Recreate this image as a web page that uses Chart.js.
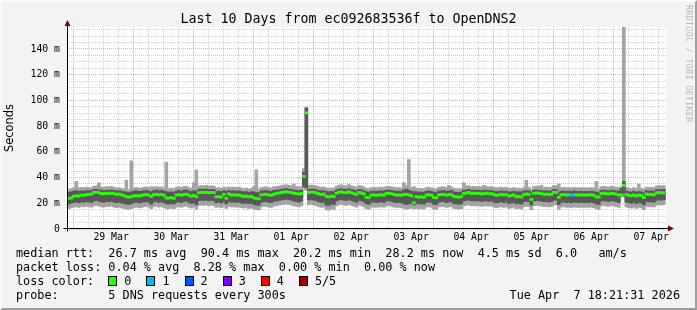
<!DOCTYPE html>
<html><head><meta charset="utf-8">
<script src="https://cdn.jsdelivr.net/npm/chart.js@4"></script>
<style>
html,body{margin:0;padding:0;background:#f3f3f3;}
#wrap{position:relative;width:697px;height:310px;background:#f3f3f3;overflow:hidden;font-family:"DejaVu Sans Mono",monospace;color:#000;box-sizing:border-box;}
#frame{position:absolute;left:0;top:0;width:697px;height:310px;box-sizing:border-box;border-top:2px solid #fcfcfc;border-left:2px solid #fcfcfc;border-right:2px solid #9e9e9e;border-bottom:2px solid #9e9e9e;pointer-events:none;}
#c{position:absolute;left:0;top:0;}
.t{position:absolute;white-space:pre;line-height:1;}
#title{font-size:13.3px;left:0;width:697px;text-align:center;top:12px;}
.lg{font-size:11.8px;left:16px;}
.sw{display:inline-block;width:7px;height:8px;border:1px solid #000;vertical-align:-1px;margin-right:7px;}
.it{display:inline-block;margin-right:15px;}
#stamp{font-size:11.8px;right:17px;top:290px;}
#wm{font-size:8.4px;color:#b8b8b8;left:684px;top:5px;transform-origin:0 0;transform:translateX(9px) rotate(90deg);letter-spacing:0.3px;}
</style></head>
<body><div id="wrap">
<canvas id="c" width="697" height="310"></canvas>
<div id="title" class="t">Last 10 Days from ec092683536f to OpenDNS2</div>
<div id="l1" class="t lg" style="top:248px">median rtt:  26.7 ms avg  90.4 ms max  20.2 ms min  28.2 ms now  4.5 ms sd  6.0   am/s</div>
<div id="l2" class="t lg" style="top:262px">packet loss: 0.04 % avg  8.28 % max  0.00 % min  0.00 % now</div>
<div id="l3" class="t lg" style="top:276px">loss color:  <span id="lossItems"></span></div>
<div id="l4" class="t lg" style="top:290px">probe:       5 DNS requests every 300s</div>
<div id="stamp" class="t">Tue Apr  7 18:21:31 2026</div>
<div id="wm" class="t">RRDTOOL / TOBI OETIKER</div>
<div id="frame"></div>
</div>
<script>
// ---- data (hourly buckets, sorted pings in ms) ----
const xLabels = ['29 Mar','30 Mar','31 Mar','01 Apr','02 Apr','03 Apr','04 Apr','05 Apr','06 Apr','07 Apr'];
const yLabels = ['0','20 m','40 m','60 m','80 m','100 m','120 m','140 m'];
const lossLabels = ['0','1','2','3','4','5/5'];
const lossColors = ['#26ff00','#00b8ff','#0059ff','#7e00ff','#ff0000','#a00000'];

const ping1 = [
16.2,15.8,16.6,17.0,17.4,16.8,17.6,17.2,17.8,17.4,
17.0,18.0,18.4,17.8,17.2,17.0,17.6,17.4,17.9,17.2,
16.6,17.1,16.4,16.0,15.6,15.2,15.8,16.8,17.0,16.4,
16.8,17.2,17.6,17.0,15.8,17.2,17.8,16.9,17.5,16.7,
16.0,15.6,16.2,15.8,17.0,17.4,16.8,17.6,18.0,17.0,
16.2,17.0,15.4,18.2,18.6,18.3,18.8,18.0,18.5,18.2,
16.8,17.2,16.5,17.8,16.0,17.7,17.1,17.3,16.9,17.2,
16.6,16.2,16.8,15.9,16.4,15.6,15.0,14.8,17.1,17.5,
17.6,17.0,16.8,17.8,18.1,18.5,18.9,19.2,19.5,19.0,
18.6,18.0,17.6,17.2,17.9,31.0,30.0,18.8,19.2,18.8,
18.2,17.4,16.8,17.2,15.0,14.6,15.6,15.2,18.0,18.8,
19.2,18.6,18.3,19.4,18.4,17.8,17.0,18.6,18.2,17.4,
15.8,15.4,17.0,17.2,16.8,17.0,17.3,16.9,18.0,18.2,
17.8,17.2,16.8,17.0,16.6,16.0,15.4,15.8,16.4,15.6,
16.0,15.6,15.8,15.4,17.0,17.3,16.8,15.4,15.2,17.1,
17.4,17.6,16.8,17.2,17.5,16.0,15.6,15.4,15.8,18.0,
18.4,18.8,18.0,18.2,17.9,18.1,17.6,17.8,18.2,17.7,
18.0,17.2,16.6,16.9,17.4,16.8,17.2,16.0,16.4,17.0,
15.8,16.1,15.6,17.4,17.7,17.4,15.0,18.0,18.4,18.2,
17.9,17.4,17.6,17.2,17.5,18.8,18.6,15.2,17.0,17.3,
16.8,17.1,16.6,17.2,16.9,16.8,17.0,16.7,16.9,16.8,
17.1,16.6,15.6,15.2,18.0,18.3,17.8,17.6,18.2,17.9,
17.4,16.8,25.2,25.2,17.2,16.6,16.2,17.0,16.0,16.8,
16.4,15.0,17.6,17.2,17.4,17.0,18.4,18.8,18.6,19.0];

const ping2 = [
19.8,19.5,20.2,20.6,21.0,20.4,21.2,20.8,21.4,21.0,
20.6,21.8,22.2,21.6,21.0,20.8,21.4,21.2,21.6,21.0,
20.4,20.9,20.2,19.8,19.4,19.0,19.6,20.5,20.8,20.2,
20.6,21.0,21.4,20.8,19.2,21.0,21.5,20.7,21.2,20.5,
19.6,19.2,19.8,19.4,20.8,21.2,20.6,21.4,21.8,20.8,
19.8,20.6,18.8,22.0,22.4,22.1,22.6,21.9,22.3,22.0,
20.4,20.8,20.2,21.5,19.6,21.4,20.8,21.0,20.6,20.9,
20.2,19.8,20.4,19.6,20.0,19.2,18.6,18.4,20.8,21.2,
21.4,20.8,20.6,21.5,21.8,22.2,22.6,22.9,23.2,22.8,
22.4,21.8,21.4,21.0,21.6,33.0,32.0,22.6,22.9,22.5,
22.0,21.2,20.6,21.0,18.6,18.4,19.4,19.0,21.8,22.6,
23.0,22.4,22.1,23.2,22.2,21.6,20.8,22.4,22.0,21.2,
19.6,19.2,20.8,21.0,20.6,20.8,21.1,20.7,21.8,22.0,
21.6,21.0,20.6,20.8,20.4,19.6,19.0,19.4,20.2,18.8,
19.8,19.4,19.6,19.2,20.8,21.1,20.6,19.2,19.0,20.9,
21.2,21.4,20.6,21.0,21.3,19.8,19.4,19.2,19.6,21.8,
22.2,22.6,21.8,22.0,21.7,21.9,21.4,21.6,22.0,21.5,
21.8,21.0,20.4,20.7,21.2,20.6,21.0,19.8,20.2,20.8,
19.6,19.9,19.4,21.2,21.5,21.2,18.6,21.8,22.2,22.0,
21.7,21.2,21.4,21.0,21.3,22.6,22.4,19.0,20.8,21.1,
20.6,20.9,20.4,21.0,20.7,20.6,20.8,20.5,20.7,20.6,
20.9,20.4,19.4,19.0,21.8,22.1,21.6,21.4,22.0,21.7,
21.2,20.6,25.5,27.0,21.0,20.4,20.0,20.8,19.8,20.6,
20.2,18.8,21.4,21.0,21.2,20.8,22.2,22.6,22.4,22.8];

const median = [
24.0,23.8,24.2,25.5,25.8,25.6,26.4,26.2,26.6,27.0,
27.1,28.4,28.6,28.3,27.6,27.4,27.8,27.5,27.9,27.7,
26.9,27.2,26.6,26.0,25.2,24.9,25.1,25.8,25.9,25.6,
26.1,26.5,26.8,26.4,25.3,26.7,27.0,26.6,26.9,26.3,
24.2,24.0,24.4,23.9,26.5,26.8,26.2,26.9,27.1,26.4,
25.4,26.0,25.1,28.2,28.5,28.4,28.6,28.1,28.5,28.3,
25.0,25.2,24.8,27.0,24.0,27.2,26.4,26.6,26.2,26.5,
25.8,25.2,25.6,25.0,25.4,24.2,23.8,23.5,26.6,26.9,
27.0,26.5,26.3,27.1,27.6,27.9,28.4,28.7,28.9,28.6,
28.4,27.8,27.5,27.2,27.6,41.0,90.4,28.5,28.7,28.6,
28.0,27.4,26.8,27.2,25.4,25.0,25.6,25.2,27.8,28.6,
28.9,28.4,28.2,29.0,28.1,27.6,26.9,28.4,28.0,27.3,
24.6,24.4,26.3,26.5,26.2,26.4,26.6,26.3,27.6,27.8,
27.5,26.9,26.4,26.6,26.2,26.8,27.0,26.5,25.8,20.4,
25.2,24.8,25.0,24.6,26.4,26.7,26.2,24.6,24.3,26.5,
26.8,27.0,26.2,26.6,26.9,25.4,25.0,24.8,25.2,27.6,
28.0,28.4,27.5,27.9,27.6,27.8,27.2,27.5,27.9,27.4,
27.6,26.8,26.2,26.5,27.0,26.4,26.8,25.6,26.0,26.5,
25.0,25.3,24.9,26.9,27.2,27.0,23.0,27.6,28.0,27.8,
27.5,27.0,27.2,26.8,27.1,28.6,28.4,24.6,26.6,26.9,
26.4,26.6,26.2,26.8,26.5,26.4,26.6,26.3,26.5,26.4,
26.7,26.2,25.0,24.8,27.6,27.9,27.4,27.2,27.8,27.5,
27.0,26.4,26.5,34.0,26.8,26.2,25.8,26.6,25.6,26.4,
26.0,24.4,27.2,26.8,27.0,26.6,28.0,28.4,28.2,28.2];

const ping4 = [
28.6,28.4,28.9,29.4,29.8,29.2,29.6,29.3,29.8,30.0,
29.8,30.6,30.9,30.4,30.2,29.6,30.1,29.9,30.4,30.0,
29.6,29.9,29.4,29.1,28.8,28.4,28.9,29.5,29.7,29.2,
29.4,29.8,30.2,29.6,29.0,29.9,30.3,29.7,30.1,29.5,
29.0,28.6,28.9,28.4,29.6,30.0,29.4,30.2,30.4,29.6,
29.2,29.8,29.4,30.6,31.0,30.8,31.1,30.6,30.9,30.7,
29.0,29.4,29.1,29.9,29.2,30.0,29.6,29.8,29.4,29.7,
29.2,28.8,29.1,28.6,29.0,28.9,28.4,28.2,29.5,29.8,
30.0,29.5,29.3,30.0,30.2,30.5,30.8,31.2,31.4,31.0,
30.8,30.3,30.0,29.8,30.1,44.0,94.0,30.8,31.1,30.9,
30.5,30.0,29.6,29.9,29.2,28.9,29.3,29.0,30.3,31.0,
31.2,30.8,30.6,31.3,30.5,30.2,29.6,30.8,30.4,29.9,
28.9,28.7,29.4,29.6,29.3,29.5,29.8,29.4,30.1,30.3,
30.0,29.6,29.3,29.5,29.2,30.4,31.0,30.2,29.4,29.0,
29.0,28.6,28.8,28.5,29.4,29.7,29.3,28.6,28.4,29.5,
29.8,30.0,29.3,29.6,30.0,28.9,28.6,28.4,28.8,30.1,
30.4,30.8,30.0,30.3,30.1,30.2,29.8,30.0,30.3,29.9,
30.0,29.5,29.1,29.3,29.7,29.2,29.5,28.8,29.0,29.4,
28.8,29.0,28.7,29.6,29.9,29.7,28.2,30.1,30.4,30.2,
30.0,29.6,29.8,29.4,29.7,30.8,30.6,28.6,29.4,29.6,
29.2,29.5,29.0,29.6,29.3,29.2,29.4,29.1,29.3,29.2,
29.5,29.1,28.6,28.4,30.0,30.3,29.9,29.7,30.2,30.0,
29.6,29.4,31.5,37.0,29.5,29.0,28.7,29.4,28.6,29.2,
28.9,28.2,29.8,29.5,29.7,29.3,30.4,30.7,30.5,30.8];

const ping5 = [
31.2,30.8,31.6,32.0,37.0,31.8,32.4,31.9,32.6,32.2,
32.0,33.2,33.6,36.0,32.8,32.4,33.0,32.6,33.2,32.5,
31.8,32.2,31.6,31.2,38.0,30.8,53.0,32.0,32.3,31.7,
32.0,32.4,32.8,32.2,33.0,32.5,33.0,32.3,32.8,32.0,
52.0,31.4,31.8,31.2,32.4,32.8,32.2,33.0,33.2,32.3,
31.8,36.0,46.0,33.4,33.8,33.5,34.0,33.2,33.6,33.3,
31.8,32.2,31.6,32.6,31.9,32.8,32.4,32.6,32.2,32.5,
31.9,31.4,31.8,31.2,31.6,33.0,46.0,31.0,32.2,32.6,
32.8,32.2,32.0,32.8,33.0,33.4,33.8,34.2,34.4,34.0,
33.8,35.0,33.0,32.6,33.0,47.0,95.0,33.8,34.2,33.9,
33.4,32.8,32.4,32.7,31.8,31.4,32.0,31.6,33.2,34.0,
34.4,33.8,33.5,34.6,33.6,33.2,32.4,33.8,33.4,32.8,
31.6,31.3,32.2,32.4,32.0,32.3,32.6,32.2,33.0,33.2,
32.8,32.4,32.0,32.2,31.9,36.0,33.8,54.0,32.2,33.0,
31.8,31.4,31.6,31.2,32.2,32.5,32.0,31.4,31.2,32.4,
32.6,32.8,32.0,34.0,32.8,31.6,31.4,31.2,31.6,36.0,
33.4,33.8,33.0,33.2,33.0,33.1,32.6,34.0,33.2,32.8,
33.0,32.4,32.0,32.2,32.6,32.0,32.4,31.6,31.8,32.2,
31.6,31.8,31.4,32.4,38.0,32.6,31.0,33.0,33.4,33.2,
34.0,32.4,32.6,32.2,32.5,33.8,33.6,35.0,32.2,32.4,
32.0,32.3,31.8,32.4,32.1,32.0,32.2,31.9,32.1,32.0,
32.3,31.9,37.0,31.2,33.0,33.3,32.8,32.6,33.2,32.9,
32.4,32.2,33.0,160.0,32.2,31.8,31.4,32.2,31.4,35.0,
31.7,31.0,32.6,32.3,32.5,32.1,33.4,33.7,33.5,33.8];

const lossCount = [
0,0,0,0,0,0,0,0,0,0, 0,0,0,0,0,0,0,0,0,0, 0,0,0,0,0,0,0,0,0,0,
0,0,0,0,0,0,0,0,0,0, 0,0,0,0,0,0,0,0,0,0, 0,0,0,0,0,0,0,0,0,0,
0,0,0,0,0,0,0,0,0,0, 0,0,0,0,0,0,0,0,0,0, 0,0,0,0,0,0,0,0,0,0,
0,0,0,0,0,0,0,0,0,0, 0,0,0,0,0,0,0,0,0,0, 0,0,0,0,0,0,0,0,0,0,
0,0,0,0,0,0,0,0,0,0, 0,0,0,0,0,0,0,0,0,0, 0,0,0,0,0,0,0,0,0,0,
0,0,0,0,0,0,0,0,0,0, 0,0,0,0,0,0,0,0,0,0, 0,0,0,0,0,0,0,0,0,0,
0,0,0,0,0,0,0,0,0,0, 0,0,0,0,0,0,0,0,0,0, 0,0,1,1,0,0,0,0,0,0,
0,0,0,0,0,0,0,0,0,0];

// ---- time axis: hours after 28 Mar 00:00 ----
const VIEW_START = 18.36, VIEW_END = 258.36;   // 28 Mar 18:21 .. 07 Apr 18:21
const FIRST_BUCKET = 18.1;                    // centre of first hourly bucket
const MED_HALF = 0.85;                        // half height of median mark (ms)

const xs = median.map((_, i) => FIRST_BUCKET + i);
const lightData = xs.map((x, i) => ({x, y: [ping1[i], ping5[i]]}));
const darkData  = xs.map((x, i) => ({x, y: [ping2[i], ping4[i]]}));
const medData   = xs.map((x, i) => ({x, y: [median[i] - MED_HALF, median[i] + MED_HALF]}));

// legend items
const li = document.getElementById('lossItems');
lossLabels.forEach((lab, k) => {
  const s = document.createElement('span'); s.className = 'it';
  s.innerHTML = '<span class="sw" style="background:' + lossColors[k] + '"></span>' + lab;
  li.appendChild(s);
});

const MONO = '"DejaVu Sans Mono", monospace';
const bg = {
  id: 'bg',
  beforeDraw(chart) {
    const {ctx, chartArea: a} = chart;
    ctx.save(); ctx.fillStyle = '#ffffff';
    ctx.fillRect(a.left, a.top, a.right - a.left, a.bottom - a.top);
    ctx.restore();
  }
};
const axes = {
  id: 'axes',
  afterDraw(chart) {
    const {ctx, chartArea: a, scales: {x, y}} = chart;
    const y0 = Math.round(y.getPixelForValue(0)) - 0.5;
    const x0 = Math.round(x.getPixelForValue(VIEW_START)) + 0.5;
    ctx.save();
    ctx.strokeStyle = '#000'; ctx.lineWidth = 1;
    ctx.beginPath();
    ctx.moveTo(x0 - 4, y0); ctx.lineTo(a.right + 2, y0);
    ctx.moveTo(x0, y0 + 3); ctx.lineTo(x0, a.top - 1);
    ctx.stroke();
    ctx.fillStyle = '#7f0000';
    ctx.beginPath();
    ctx.moveTo(a.right + 1, y0 - 3); ctx.lineTo(a.right + 7, y0); ctx.lineTo(a.right + 1, y0 + 3); ctx.closePath(); ctx.fill();
    ctx.beginPath();
    ctx.moveTo(x0 - 3, a.top - 1); ctx.lineTo(x0, a.top - 7); ctx.lineTo(x0 + 3, a.top - 1); ctx.closePath(); ctx.fill();
    ctx.restore();
  }
};

const MINOR = 'rgba(170,170,170,0.55)', MAJOR = 'rgba(235,110,110,0.6)';
const barCommon = {grouped: false, barThickness: 3, borderWidth: 0, clip: 0};

new Chart(document.getElementById('c'), {
  type: 'bar',
  data: {
    datasets: [
      Object.assign({label: 'median', data: medData, order: 1,
        backgroundColor: ctx => lossColors[lossCount[ctx.dataIndex] || 0]}, barCommon),
      Object.assign({label: 'ping2-4', data: darkData, order: 2, backgroundColor: '#585858'}, barCommon),
      Object.assign({label: 'ping1-5', data: lightData, order: 3, backgroundColor: '#a4a4a4'}, barCommon)
    ]
  },
  options: {
    responsive: false, animation: false, devicePixelRatio: 1,
    layout: {padding: {left: 0, right: 30, top: 27, bottom: 0}},
    plugins: {legend: {display: false}, tooltip: {enabled: false}, title: {display: false}},
    scales: {
      x: {
        type: 'linear', min: VIEW_START, max: VIEW_END, offset: false, z: 1,
        afterBuildTicks: s => { const t = []; for (let h = 24; h <= VIEW_END; h += 6) t.push({value: h}); s.ticks = t; },
        afterFit: s => { s.height = 81; },
        grid: {color: c => (c.tick && c.tick.value % 24 === 0) ? MAJOR : MINOR, lineWidth: 1, drawTicks: false},
        border: {display: false, dash: [1, 1]},
        ticks: {autoSkip: false, maxRotation: 0, minRotation: 0, padding: 3, color: '#000',
          font: {family: MONO, size: 9.8},
          callback: v => (v % 24 === 12) ? xLabels[(v - 36) / 24] : ''}
      },
      y: {
        type: 'linear', min: 0, max: 157.1, z: 1,
        afterBuildTicks: s => { const t = []; for (let v = 0; v <= 155; v += 5) t.push({value: v}); s.ticks = t; },
        afterFit: s => { s.width = 67; },
        grid: {color: c => (c.tick && c.tick.value % 20 === 0) ? MAJOR : MINOR, lineWidth: 1, drawTicks: false},
        border: {display: false, dash: [1, 1]},
        ticks: {autoSkip: false, padding: 7, color: '#000', font: {family: MONO, size: 9.8},
          callback: v => (v % 20 === 0) ? yLabels[v / 20] : ''},
        title: {display: true, text: 'Seconds', color: '#000', padding: {top: 3, bottom: 0},
          font: {family: '"DejaVu Sans", sans-serif', size: 11.4}}
      }
    }
  },
  plugins: [bg, axes]
});
</script>
</body></html>
